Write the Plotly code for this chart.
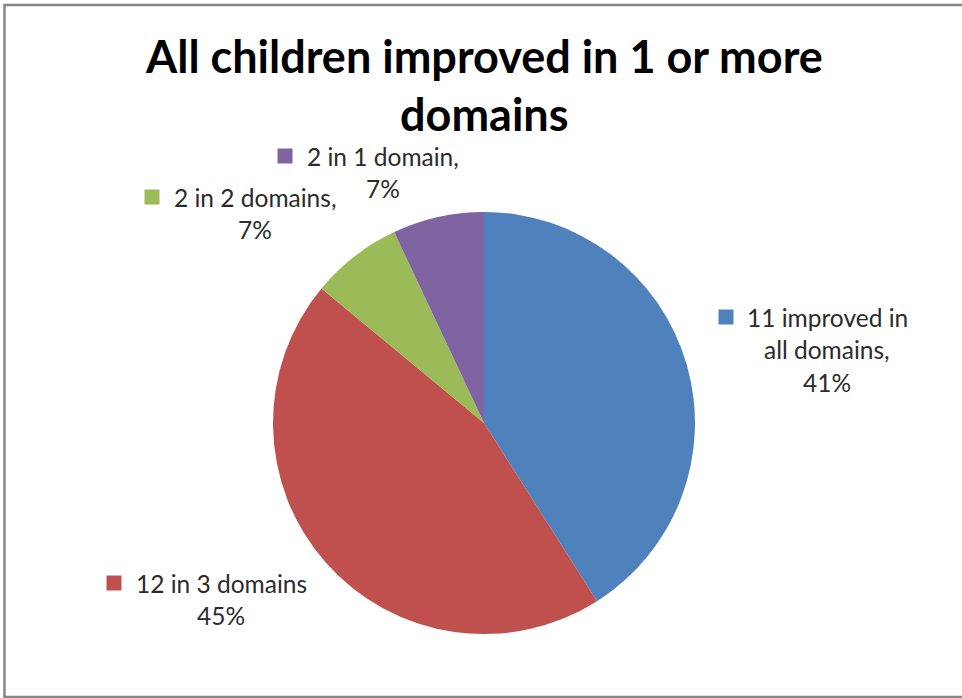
import plotly.graph_objects as go

W, H = 962, 698

# ---- data ----
labels = ["11 improved in all domains", "12 in 3 domains", "2 in 2 domains", "2 in 1 domain"]
values = [41, 45, 7, 7]          # percentages as shown
pct_text = ["41%", "45%", "7%", "7%"]
colors = ["#4F81BD", "#C0504D", "#9BBB59", "#8064A2"]
title_lines = ["All children improved in 1 or more", "domains"]

# label line texts (as shown next to slices)
label_lines = [
    ["11 improved in", "all domains,", pct_text[0]],
    ["12 in 3 domains", pct_text[1]],
    ["2 in 2 domains,", pct_text[2]],
    ["2 in 1 domain,", pct_text[3]],
]

# ---- layout helpers (pixel -> paper) ----
def px(x):
    return x / W

def py(y):
    return 1 - y / H

cx, cy, r = 484, 423, 211

fig = go.Figure(go.Pie(
    labels=labels,
    values=values,
    marker=dict(colors=colors, line=dict(width=0)),
    sort=False,
    direction="clockwise",
    rotation=0,
    textinfo="none",
    hoverinfo="label+percent",
    showlegend=False,
    domain=dict(x=[px(cx - r), px(cx + r)], y=[py(cy + r), py(cy - r)]),
))

# label placement (text block center x, first line center y, square center)
label_pos = [
    dict(tx=827, ty=317, sq=(726, 317)),
    dict(tx=221, ty=583, sq=(114, 583)),
    dict(tx=255, ty=197, sq=(152, 197)),
    dict(tx=383, ty=156, sq=(285, 156)),
]
line_gap = 32.5
label_font = dict(family="Lato, Carlito, sans-serif", size=24.5, color="#2b2b2b")

annotations = []
shapes = []
for i, lines in enumerate(label_lines):
    p = label_pos[i]
    for k, t in enumerate(lines):
        annotations.append(dict(
            x=px(p["tx"]), y=py(p["ty"] + k * line_gap), xref="paper", yref="paper",
            text=t, showarrow=False, xanchor="center", yanchor="middle",
            font=label_font,
        ))
    sx, sy = p["sq"]
    shapes.append(dict(
        type="rect", xref="paper", yref="paper",
        x0=px(sx - 7.5), x1=px(sx + 7.5), y0=py(sy + 7.5), y1=py(sy - 7.5),
        fillcolor=colors[i], line=dict(width=0),
    ))

# title lines
title_y = [56, 114]
for t, yy in zip(title_lines, title_y):
    annotations.append(dict(
        x=px(484), y=py(yy), xref="paper", yref="paper", text="<b>" + t + "</b>",
        showarrow=False, xanchor="center", yanchor="middle",
        font=dict(family="Lato, Carlito, sans-serif", size=45, color="#000000"),
    ))

# chart border
shapes.append(dict(
    type="rect", xref="paper", yref="paper",
    x0=px(4.5), x1=px(W + 10), y0=py(697), y1=py(5),
    line=dict(color="#878787", width=2.5), fillcolor="rgba(0,0,0,0)",
))

fig.update_layout(
    width=W, height=H,
    margin=dict(l=0, r=0, t=0, b=0),
    paper_bgcolor="white",
    plot_bgcolor="white",
    annotations=annotations,
    shapes=shapes,
)

fig.write_html("out.html")
